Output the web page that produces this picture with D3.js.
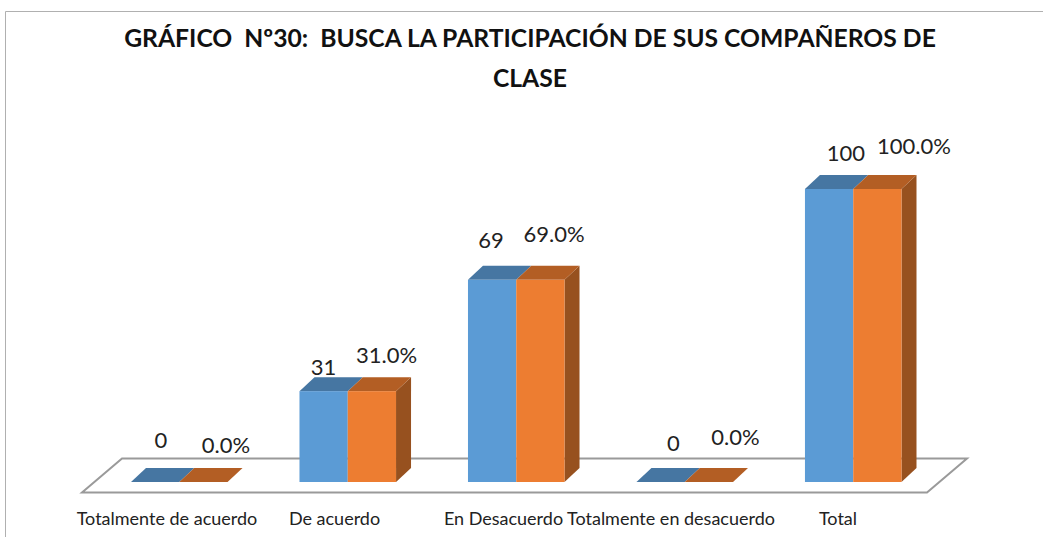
<!DOCTYPE html>
<html lang="es">
<head>
<meta charset="UTF-8">
<title>Gráfico 30</title>
<script src="https://d3js.org/d3.v7.min.js"></script>
<style>
    body { margin: 0; background: #fff; font-family: Lato, "Open Sans", sans-serif; }
    svg { display: block; }
    .title { font-size: 24.7px; font-weight: 700; fill: #111; }
    .val { font-size: 22px; fill: #222; }
    .cat { font-size: 18px; fill: #222; }
</style>
</head>
<body>
<div id="chart"></div>
<script>
    const categories = ["Totalmente de acuerdo", "De acuerdo", "En Desacuerdo", "Totalmente en desacuerdo", "Total"];
    const counts = [0, 31, 69, 0, 100];
    const percents = [0, 31, 69, 0, 100];
    const titleLines = ["GRÁFICO  Nº30:  BUSCA LA PARTICIPACIÓN DE SUS COMPAÑEROS DE", "CLASE"];

    const width = 1043, height = 537;
    const depthX = 15, depthY = 14;

    const svg = d3.select("#chart").append("svg")
        .attr("width", width)
        .attr("height", height);

    // frame, only top and left are visible in the picture
    svg.append("path")
        .attr("d", "M5.5,537V11.5H1043")
        .attr("fill", "none")
        .attr("stroke", "#b0b0b0");

    svg.selectAll(".title").data(titleLines).enter().append("text")
        .attr("class", "title")
        .attr("x", 530)
        .attr("y", (d, i) => 47 + i * 40)
        .attr("text-anchor", "middle")
        .style("white-space", "pre")
        .text(d => d);

    const x = d3.scaleBand().domain(categories).range([131, 901.5]).paddingInner(0.427).paddingOuter(0);
    const y = d3.scaleLinear().domain([0, 100]).range([482, 189]);
    const series = d3.scaleBand().domain(["n", "p"]).range([0, x.bandwidth()]);

    // floor
    svg.append("path")
        .attr("d", "M122,458.5H967L927,492.5H82Z")
        .attr("fill", "#fff")
        .attr("stroke", "#9a9a9a")
        .attr("stroke-width", 2);

    const colors = { n: ["#5b9bd5", "#4676a2"], p: ["#ed7d31", "#b35e24"] };
    const sideColor = "#97511f";

    function drawBar(group, key, value) {
        const bx = series(key), w = series.bandwidth(), top = y(value), base = y(0);
        if (key === "p" && value > 0) {
            group.append("path")
                .attr("d", `M${bx + w},${top}l${depthX},${-depthY}V${base - depthY}l${-depthX},${depthY}Z`)
                .attr("fill", sideColor);
        }
        group.append("path")
            .attr("d", `M${bx},${top}l${depthX},${-depthY}h${w}l${-depthX},${depthY}Z`)
            .attr("fill", colors[key][1]);
        if (value > 0) {
            group.append("rect")
                .attr("x", bx).attr("y", top)
                .attr("width", w).attr("height", base - top)
                .attr("fill", colors[key][0]);
        }
    }

    const groups = svg.selectAll(".bar").data(categories).enter().append("g")
        .attr("class", "bar")
        .attr("transform", d => `translate(${x(d)},0)`);

    groups.each(function (d, i) {
        const g = d3.select(this);
        drawBar(g, "n", counts[i]);
        drawBar(g, "p", percents[i]);
    });

    // the labels were dragged by hand in the original, so each one has its own offset
    const countDx = [30, 24, 23, 37, 41];
    const countDy = [-34, -16, -32, -31, -28];
    const percentDx = [95, 87, 86, 99, 109];
    const percentDy = [-29, -28, -38, -37, -35];

    groups.append("text")
        .attr("class", "val")
        .attr("x", (d, i) => countDx[i])
        .attr("y", (d, i) => y(counts[i]) + countDy[i])
        .attr("text-anchor", "middle")
        .text((d, i) => counts[i]);

    groups.append("text")
        .attr("class", "val")
        .attr("x", (d, i) => percentDx[i])
        .attr("y", (d, i) => y(percents[i]) + percentDy[i])
        .attr("text-anchor", "middle")
        .text((d, i) => d3.format(".1f")(percents[i]) + "%");

    const catX = [167, 334.5, 503.5, 671, 838];
    svg.selectAll(".cat").data(categories).enter().append("text")
        .attr("class", "cat")
        .attr("x", (d, i) => catX[i])
        .attr("y", 525)
        .attr("text-anchor", "middle")
        .text(d => d);
</script>
</body>
</html>
